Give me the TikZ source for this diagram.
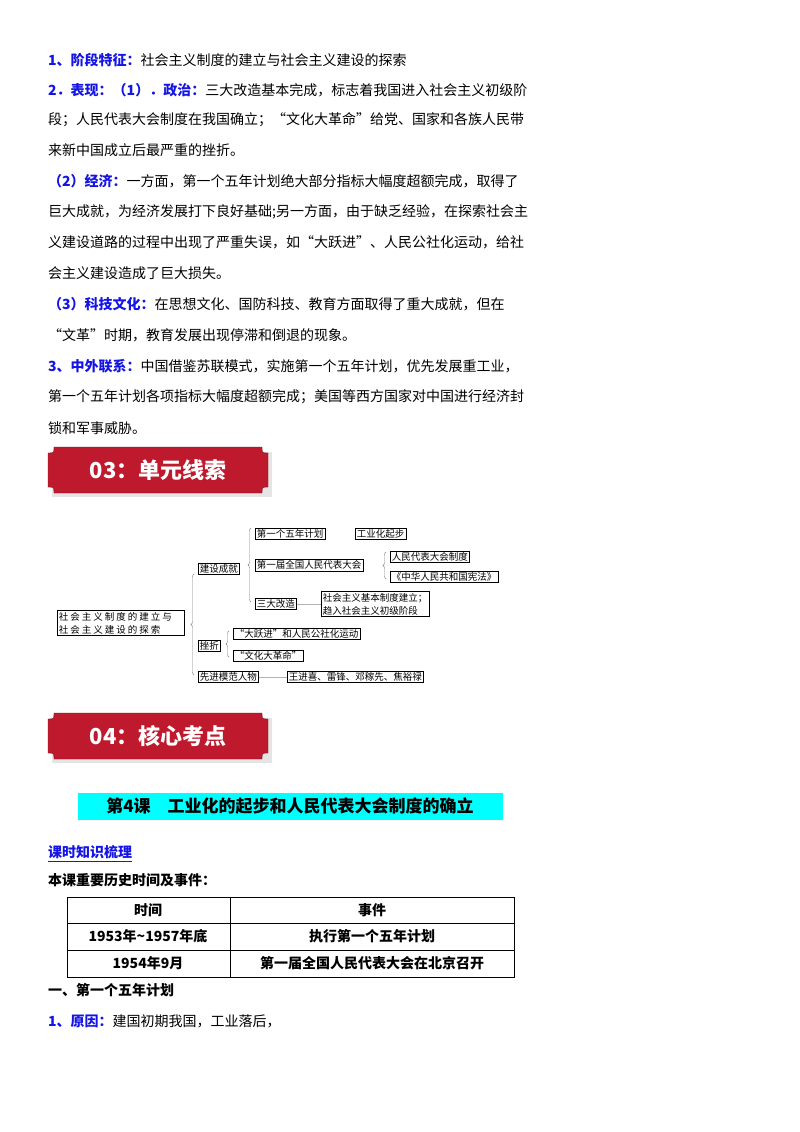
\documentclass[tikz,border=0pt]{standalone}
\usepackage{fontspec}
\setmainfont{Noto Sans CJK SC}
\XeTeXlinebreaklocale "zh"
\XeTeXlinebreakskip=0pt plus 1pt
\usetikzlibrary{decorations.pathreplacing}
\newcommand\mytrfont{\fontsize{9.5}{13}\selectfont\XeTeXlinebreakskip=2pt\relax}
\definecolor{lblue}{RGB}{20,20,230}
\definecolor{bred}{RGB}{190,25,45}
\definecolor{hcyan}{RGB}{0,255,255}
\tikzset{
 txt/.style={anchor=west,inner sep=0pt,font=\fontsize{14}{14}\selectfont},
 tb/.style={draw,line width=0.9pt,inner sep=1.5pt,font=\mytrfont,anchor=west,align=left},
 br/.style={draw=gray,decorate,decoration={brace,amplitude=3pt,mirror}},
 ln/.style={draw=gray!60,line width=1pt},
 banner/.style={fill=bred,draw=bred!70!black},
}
\begin{document}
\begin{tikzpicture}[x=1pt,y=-1pt]
\useasboundingbox[fill=white] (0,0) rectangle (800,1132);
\node[txt] (l1) at (48,60) {{\bfseries\color{lblue}1、阶段特征：}社会主义制度的建立与社会主义建设的探索};
\node[txt] (l2) at (48,90) {{\bfseries\color{lblue}2．表现：（1）．政治：}三大改造基本完成，标志着我国进入社会主义初级阶};
\node[txt] (l3) at (48,120) {段；人民代表大会制度在我国确立；“文化大革命”给党、国家和各族人民带};
\node[txt] (l4) at (48,150) {来新中国成立后最严重的挫折。};
\node[txt] (l5) at (48,181) {{\bfseries\color{lblue}（2）经济：}一方面，第一个五年计划绝大部分指标大幅度超额完成，取得了};
\node[txt] (l6) at (48,212) {巨大成就，为经济发展打下良好基础;另一方面，由于缺乏经验，在探索社会主};
\node[txt] (l7) at (48,242) {义建设道路的过程中出现了严重失误，如“大跃进”、人民公社化运动，给社};
\node[txt] (l8) at (48,273) {会主义建设造成了巨大损失。};
\node[txt] (l9) at (48,304) {{\bfseries\color{lblue}（3）科技文化：}在思想文化、国防科技、教育方面取得了重大成就，但在};
\node[txt] (l10) at (48,335) {“文革”时期，教育发展出现停滞和倒退的现象。};
\node[txt] (l11) at (48,366) {{\bfseries\color{lblue}3、中外联系：}中国借鉴苏联模式，实施第一个五年计划，优先发展重工业，};
\node[txt] (l12) at (48,397) {第一个五年计划各项指标大幅度超额完成；美国等西方国家对中国进行经济封};
\node[txt] (l13) at (48,428) {锁和军事威胁。};
% banners
\foreach \yy/\tt/\nm in {447/03：单元线索/b3, 713/04：核心考点/b4}{
 \fill[gray!20] (52,\yy+5) rectangle (272,\yy+50);
 \path[banner] (54,\yy) -- (262,\yy) .. controls (262,\yy+6) .. (268,\yy+6) -- (268,\yy+40) .. controls (262,\yy+40) .. (262,\yy+46) -- (54,\yy+46) .. controls (54,\yy+40) .. (48,\yy+40) -- (48,\yy+6) .. controls (54,\yy+6) .. cycle;
 \node[text=white,font=\fontsize{22}{22}\selectfont\bfseries] (\nm) at (158,\yy+23) {\tt};
}
% tree
\node[tb,text width=124pt] (root) at (57,623) {社会主义制度的建立与社会主义建设的探索};
\node[tb] (js) at (198,569) {建设成就};
\node[tb] (cz) at (198,646) {挫折};
\node[tb] (xj) at (198,677) {先进模范人物};
\node[tb] (wn) at (255,534) {第一个五年计划};
\node[tb] (gy) at (355,534) {工业化起步};
\node[tb] (dy) at (255,565) {第一届全国人民代表大会};
\node[tb] (rd) at (390,557) {人民代表大会制度};
\node[tb] (xf) at (390,577) {《中华人民共和国宪法》};
\node[tb] (sd) at (255,604) {三大改造};
\node[tb] (sh) at (321,604) {社会主义基本制度建立；\\趋入社会主义初级阶段};
\node[tb] (dyj) at (233,634) {“大跃进”和人民公社化运动};
\node[tb] (wg) at (233,656) {“文化大革命”};
\node[tb] (wj) at (287,677) {王进喜、雷锋、邓稼先、焦裕禄};
\draw[br] (194,574) -- (194,675);
\draw[br] (251,528) -- (251,602);
\draw[br] (386,552) -- (386,579);
\draw[br] (229,631) -- (229,657);
\draw[ln] (sd) -- (sh);
\draw[ln] (xj) -- (wj);
% title
\fill[hcyan] (78,793) rectangle (503,820);
\node[font=\fontsize{17}{17}\selectfont\bfseries] (title) at (290,806) {第4课\quad 工业化的起步和人民代表大会制度的确立};
\node[txt,font=\fontsize{14}{14}\selectfont\bfseries\color{lblue}] (ks) at (48,852) {课时知识梳理};
\draw[lblue,line width=0.8pt] (48,861) -- (ks.east |- 0,861);
\node[txt,font=\fontsize{14}{14}\selectfont\bfseries] (bk) at (48,880) {本课重要历史时间及事件：};
% table
\draw[line width=1pt] (67,897) rectangle (514,977);
\draw (67,923) -- (514,923) (67,950) -- (514,950) (230,897) -- (230,977);
\foreach \yy/\a/\b/\n in {910/时间/事件/r1, 936.5/1953年\textasciitilde1957年底/执行第一个五年计划/r2, 963.5/1954年9月/第一届全国人民代表大会在北京召开/r3}{
 \node[font=\fontsize{14}{14}\selectfont\bfseries] (\n a) at (148,\yy) {\a};
 \node[font=\fontsize{14}{14}\selectfont\bfseries] (\n b) at (372,\yy) {\b};
}
\node[txt,font=\fontsize{14}{14}\selectfont\bfseries] (yi) at (48,990) {一、第一个五年计划};
\node[txt] (yy) at (48,1021) {{\bfseries\color{lblue}1、原因：}建国初期我国，工业落后，};
\end{tikzpicture}
\end{document}
